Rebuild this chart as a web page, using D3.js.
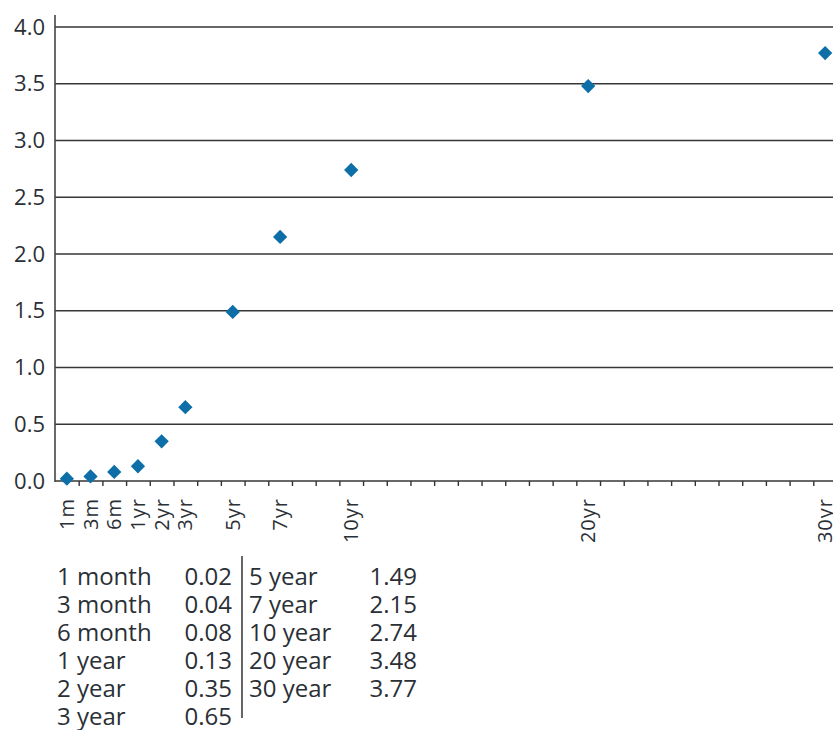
<!DOCTYPE html>
<html>
<head>
<meta charset="utf-8">
<style>
  body { margin: 0; background: #fff; }
  svg text { font-family: "Open Sans", sans-serif; fill: #2b2f36; }
</style>
</head>
<body>
<div class="chart"></div>
<script src="https://cdn.jsdelivr.net/npm/d3@7"></script>
<script>
    // maturities, their slot on the x axis, and yields (%)
    var tickLabels = ['1m', '3m', '6m', '1yr', '2yr', '3yr', '5yr', '7yr', '10yr', '20yr', '30yr'];
    var slots = [1, 2, 3, 4, 5, 6, 8, 10, 13, 23, 33];
    var yields = [0.02, 0.04, 0.08, 0.13, 0.35, 0.65, 1.49, 2.15, 2.74, 3.48, 3.77];
    var tableNames = ['1 month', '3 month', '6 month', '1 year', '2 year', '3 year',
                      '5 year', '7 year', '10 year', '20 year', '30 year'];
    var yTicks = [0, 0.5, 1, 1.5, 2, 2.5, 3, 3.5, 4];

    var width = 833, height = 730;
    var markColor = '#0d6ea8';

    var svg = d3.select('.chart').append('svg')
            .attr('width', width)
            .attr('height', height);

    var x = d3.scaleLinear().domain([0.5, 33.5]).range([55, 837]);
    var y = d3.scaleLinear().domain([0, 4]).range([481, 27]);

    // gridlines
    svg.append('g')
            .selectAll('line')
            .data(yTicks)
            .join('line')
            .attr('x1', 55)
            .attr('x2', width)
            .attr('y1', function (d) { return y(d); })
            .attr('y2', function (d) { return y(d); })
            .style('stroke', '#363636')
            .style('stroke-width', 1.6);

    // y axis
    var yAxis = d3.axisLeft(y).tickValues(yTicks).tickSize(0).tickPadding(10)
            .tickFormat(d3.format('.1f'));
    var gy = svg.append('g')
            .attr('transform', 'translate(55,0)')
            .call(yAxis);
    gy.select('.domain').remove();
    gy.selectAll('text')
            .style('font-size', '22px')
            .style('font-family', '"Open Sans", sans-serif')
            .attr('fill', '#3a4350');
    svg.append('line')
            .attr('x1', 55).attr('x2', 55)
            .attr('y1', 15).attr('y2', 482)
            .style('stroke', '#444')
            .style('stroke-width', 1.6);

    // x axis ticks at slot boundaries
    var xAxis = d3.axisBottom(x)
            .tickValues(d3.range(1.5, 33, 1))
            .tickSize(5)
            .tickFormat('');
    var gx = svg.append('g')
            .attr('transform', 'translate(0,' + y(0) + ')')
            .call(xAxis);
    gx.select('.domain').remove();
    gx.selectAll('line').style('stroke', '#333').style('stroke-width', 1.4);

    // rotated maturity labels
    svg.append('g')
            .selectAll('text')
            .data(tickLabels)
            .join('text')
            .attr('transform', function (d, i) {
                return 'translate(' + x(slots[i]) + ',' + 498 + ') rotate(-90)';
            })
            .attr('text-anchor', 'end')
            .attr('dy', '0.35em')
            .style('font-size', '20px')
            .style('letter-spacing', '1px')
            .text(function (d) { return d; });

    // diamond markers
    var diamond = d3.symbol().type(d3.symbolDiamond2).size(130);
    svg.append('g')
            .selectAll('path')
            .data(yields)
            .join('path')
            .attr('d', diamond)
            .attr('transform', function (d, i) {
                return 'translate(' + x(slots[i]) + ',' + y(d) + ')';
            })
            .style('fill', markColor);

    // table of values below chart
    var rowY = function (r) { return 585 + r * 28; };
    var table = svg.append('g').style('font-size', '24px');
    table.selectAll('text.name')
            .data(tableNames)
            .join('text')
            .attr('class', 'name')
            .attr('x', function (d, i) { return i < 6 ? 57 : 249; })
            .attr('y', function (d, i) { return rowY(i < 6 ? i : i - 6); })
            .text(function (d) { return d; });
    table.selectAll('text.val')
            .data(yields)
            .join('text')
            .attr('class', 'val')
            .attr('text-anchor', 'end')
            .attr('x', function (d, i) { return i < 6 ? 232 : 417; })
            .attr('y', function (d, i) { return rowY(i < 6 ? i : i - 6); })
            .text(function (d) { return d.toFixed(2); });
    svg.append('line')
            .attr('x1', 242).attr('x2', 242)
            .attr('y1', 556).attr('y2', 718)
            .style('stroke', '#333')
            .style('stroke-width', 1.5);
</script>
</body>
</html>
